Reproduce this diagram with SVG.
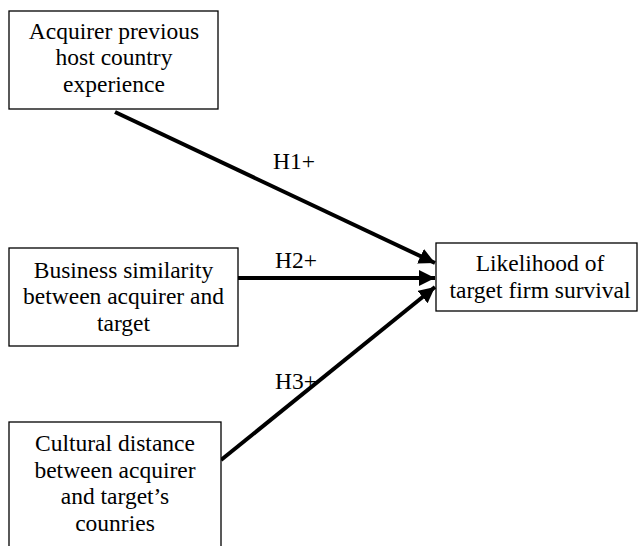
<svg xmlns="http://www.w3.org/2000/svg" width="639" height="546" viewBox="0 0 639 546">
<style>
.box{fill:#fff;stroke:#000;stroke-width:1.3}
.t{font-family:"Liberation Serif","Times New Roman",serif;font-size:23.5px;fill:#000;text-anchor:middle}
.c{stroke:#000;stroke-width:4;fill:none}
</style>
<defs>
<marker id="ah" viewBox="0 0 10 10" refX="10" refY="5" markerWidth="4" markerHeight="4" markerUnits="strokeWidth" orient="auto">
<path d="M0,0 L10,5 L0,10 z" fill="#000"/>
</marker>
</defs>
<rect width="639" height="546" fill="#fff"/>
<g id="connectors">
<line class="c" x1="115" y1="112" x2="435" y2="263" marker-end="url(#ah)"/>
<line class="c" x1="238" y1="278" x2="435" y2="278" marker-end="url(#ah)"/>
<line class="c" x1="221" y1="460" x2="435" y2="287" marker-end="url(#ah)"/>
<text class="t" x="294" y="169">H1+</text>
<text class="t" x="296" y="268">H2+</text>
<text class="t" x="296" y="389">H3+</text>
</g>
<g id="n1">
<rect class="box" x="9" y="11" width="209" height="98"/>
<text class="t" x="114" y="39">Acquirer previous</text>
<text class="t" x="114" y="65">host country</text>
<text class="t" x="114" y="92">experience</text>
</g>
<g id="n2">
<rect class="box" x="9" y="248" width="229" height="98"/>
<text class="t" x="123.5" y="278">Business similarity</text>
<text class="t" x="123.5" y="304">between acquirer and</text>
<text class="t" x="123.5" y="331">target</text>
</g>
<g id="n3">
<rect class="box" x="9" y="422" width="212" height="140"/>
<text class="t" x="115" y="451">Cultural distance</text>
<text class="t" x="115" y="478">between acquirer</text>
<text class="t" x="115" y="504">and target’s</text>
<text class="t" x="115" y="531">counries</text>
</g>
<g id="n4">
<rect class="box" x="436" y="243" width="201" height="68"/>
<text class="t" x="540" y="271">Likelihood of</text>
<text class="t" x="540" y="298">target firm survival</text>
</g>
</svg>
